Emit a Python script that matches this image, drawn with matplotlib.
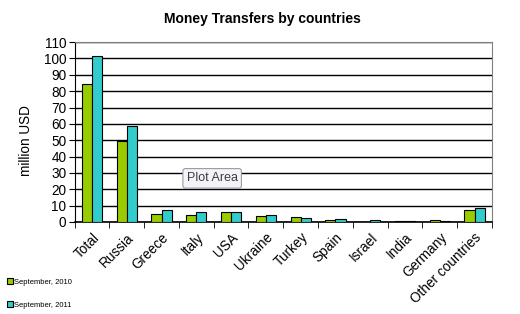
import numpy as np
import matplotlib.pyplot as plt

plt.rcParams['font.family'] = ['Liberation Sans', 'DejaVu Sans']

# data (million USD)
countries = ['Total', 'Russia', 'Greece', 'Italy', 'USA', 'Ukraine', 'Turkey',
             'Spain', 'Israel', 'India', 'Germany', 'Other countries']
sep_2010 = [84.2, 49.3, 4.9, 4.3, 6.0, 3.5, 2.9, 1.0, 0.3, 0.4, 1.2, 7.1]
sep_2011 = [101.5, 58.6, 7.1, 5.9, 6.0, 4.3, 2.2, 1.8, 1.2, 0.4, 0.4, 8.3]
series_names = ['September, 2010', 'September, 2011']
colors = ['#99cc00', '#33cccc']

fig = plt.figure(figsize=(5.2, 3.14), dpi=100)
ax = fig.add_axes([0.1435, 0.293, 0.8025, 0.573])

x = np.arange(len(countries))
w = 0.29
ax.bar(x - w / 2, sep_2010, w, color=colors[0], edgecolor='black', linewidth=0.8,
       label=series_names[0], zorder=3)
ax.bar(x + w / 2, sep_2011, w, color=colors[1], edgecolor='black', linewidth=0.8,
       label=series_names[1], zorder=3)

ax.set_xlim(-0.5, len(countries) - 0.5)
ax.set_ylim(0, 110)
ax.set_yticks(range(0, 111, 10))
ax.yaxis.grid(True, color='black', linewidth=1.0, zorder=1)

ax.set_xticks(x)
ax.set_xticklabels(countries, rotation=45, ha='right', rotation_mode='anchor', fontsize=9.8)
ax.tick_params(axis='x', which='major', length=0, pad=6)
ax.set_xticks(np.arange(-0.5, len(countries), 1), minor=True)
ax.tick_params(axis='x', which='minor', length=4, direction='out', color='black')
ax.tick_params(axis='y', length=4, direction='out', labelsize=9.8, pad=2)

for s in ['top', 'right']:
    ax.spines[s].set_color('#808080')
ax.spines['left'].set_color('black')
ax.spines['bottom'].set_color('black')
ax.spines['bottom'].set_linewidth(1.2)

ax.set_ylabel('million USD', fontsize=9.8)
ax.yaxis.set_label_coords(-0.10, 0.45)
fig.text(0.504, 0.938, 'Money Transfers by countries', ha='center', va='center',
         fontsize=10, fontweight='bold')

leg = fig.legend(loc='lower left', bbox_to_anchor=(0.0, -0.005), fontsize=5.5,
                 frameon=False, handlelength=0.8, handleheight=0.8,
                 handletextpad=0.1, labelspacing=2.0)

# the "Plot Area" tooltip visible in the screenshot
fig.text(0.408, 0.432, 'Plot Area', ha='center', va='center', fontsize=9,
         color='#3c3c3c',
         bbox=dict(boxstyle='round,pad=0.3,rounding_size=0.2', fc='#f4f4f8',
                   ec='#9a9aa8', lw=0.8))

fig.savefig('out.png', dpi=100)
